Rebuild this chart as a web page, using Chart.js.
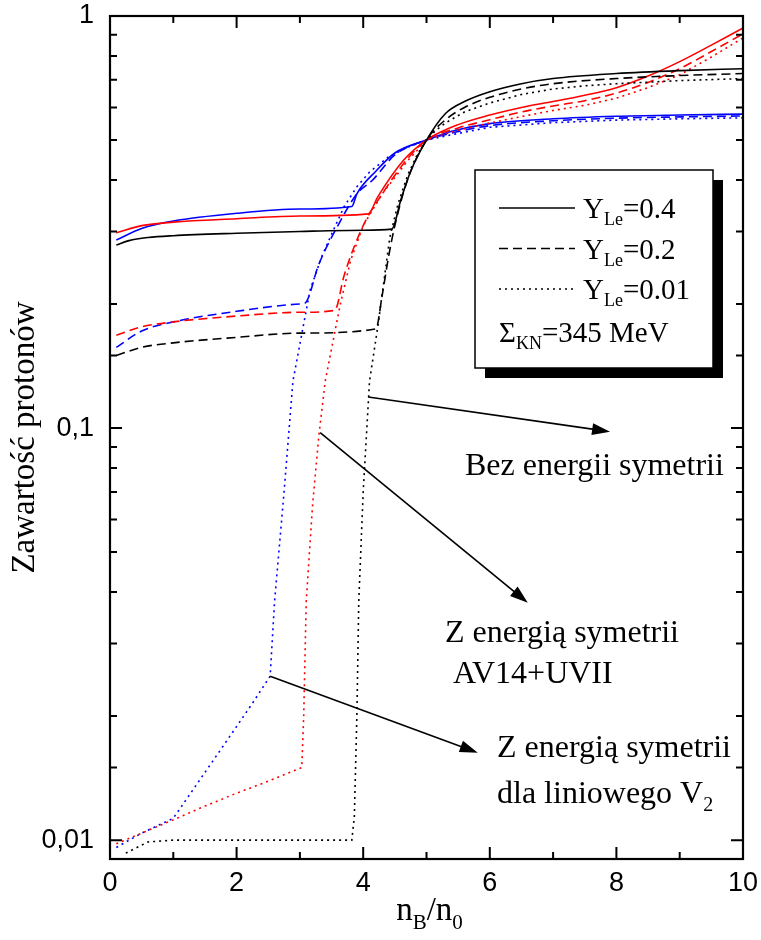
<!DOCTYPE html>
<html lang="pl">
<head>
<meta charset="utf-8">
<title>Zawartość protonów</title>
<script src="https://cdn.jsdelivr.net/npm/chart.js@4.4.1/dist/chart.umd.min.js"></script>
<style>
    html, body { margin: 0; padding: 0; background: #fff; }
    .chart-wrap { position: relative; width: 761px; height: 940px; }
</style>
</head>
<body>
<div class="chart-wrap"><canvas id="protonChart"></canvas></div>
<script>
// Bez energii symetrii (black)
const bezX04 = [0.1, 0.3, 0.6, 1, 2, 3, 4, 4.45, 4.6, 4.75, 5, 5.3, 5.6, 6, 6.5, 7, 8, 9, 10];
const bezY04 = [0.278, 0.285, 0.29, 0.293, 0.297, 0.3, 0.302, 0.304, 0.36, 0.42, 0.5, 0.58, 0.62, 0.655, 0.685, 0.705, 0.725, 0.737, 0.745];
const bezX02 = [0.1, 0.5, 1, 2, 3, 4.2, 4.3, 4.4, 4.5, 4.7, 5, 5.3, 5.6, 6, 6.5, 7, 8, 9, 10];
const bezY02 = [0.15, 0.157, 0.161, 0.166, 0.17, 0.174, 0.21, 0.26, 0.31, 0.4, 0.5, 0.56, 0.6, 0.635, 0.665, 0.685, 0.705, 0.717, 0.725];
const bezX001 = [0.25, 0.6, 1, 2, 3, 3.82, 3.86, 3.9, 3.93, 4.0, 4.1, 4.23, 4.42, 4.55, 4.7, 4.85, 5, 5.15, 5.3, 5.6, 6, 6.5, 7, 7.5, 8, 9, 10];
const bezY001 = [0.0093, 0.0099, 0.01, 0.01, 0.01, 0.01, 0.0114, 0.02, 0.038, 0.07, 0.13, 0.176, 0.29, 0.35, 0.41, 0.46, 0.5, 0.528, 0.55, 0.585, 0.615, 0.645, 0.665, 0.677, 0.685, 0.697, 0.705];

// Z energią symetrii AV14+UVII (red)
const avX04 = [0.1, 0.5, 1, 2, 3, 4.08, 4.23, 4.64, 5, 5.5, 6, 6.5, 7, 7.5, 8, 8.5, 9, 9.5, 10];
const avY04 = [0.298, 0.31, 0.316, 0.322, 0.327, 0.331, 0.364, 0.447, 0.5, 0.545, 0.575, 0.6, 0.62, 0.642, 0.67, 0.715, 0.775, 0.85, 0.935];
const avX02 = [0.1, 0.5, 1, 2, 3, 3.55, 3.7, 4.0, 4.3, 4.7, 5, 5.5, 6, 6.5, 7, 7.5, 8, 8.5, 9, 9.5, 10];
const avY02 = [0.168, 0.176, 0.181, 0.187, 0.191, 0.193, 0.235, 0.31, 0.37, 0.45, 0.5, 0.535, 0.56, 0.585, 0.605, 0.623, 0.65, 0.69, 0.745, 0.82, 0.905];
const avX001 = [0.1, 0.5, 1, 1.5, 2, 2.5, 3.03, 3.06, 3.1, 3.2, 3.3, 3.4, 3.63, 3.8, 4.0, 4.3, 4.7, 5, 5.25, 5.5, 6, 6.5, 7, 7.5, 8, 8.5, 9, 9.5, 10];
const avY001 = [0.0098, 0.0104, 0.0112, 0.0121, 0.013, 0.0139, 0.015, 0.02, 0.038, 0.065, 0.096, 0.13, 0.197, 0.255, 0.31, 0.37, 0.445, 0.5, 0.515, 0.528, 0.55, 0.57, 0.59, 0.607, 0.632, 0.67, 0.72, 0.795, 0.885];

// Z energią symetrii dla liniowego V2 (blue)
const v2X04 = [0.1, 0.5, 1, 2, 3, 3.82, 3.9, 4.2, 4.5, 5, 5.4, 6, 7, 8, 9, 10];
const v2Y04 = [0.286, 0.305, 0.318, 0.332, 0.34, 0.345, 0.37, 0.42, 0.465, 0.5, 0.525, 0.548, 0.563, 0.571, 0.575, 0.578];
const v2X02 = [0.1, 0.5, 1, 2, 3, 3.08, 3.3, 3.6, 3.9, 4.15, 4.5, 5, 5.4, 6, 7, 8, 9, 10];
const v2Y02 = [0.157, 0.172, 0.181, 0.192, 0.2, 0.201, 0.25, 0.31, 0.37, 0.4, 0.46, 0.5, 0.52, 0.542, 0.557, 0.565, 0.569, 0.572];
const v2X001 = [0.1, 0.5, 1, 1.5, 1.93, 2.26, 2.53, 2.6, 2.75, 2.89, 3.16, 3.35, 3.52, 3.7, 3.9, 4.1, 4.4, 4.7, 5, 5.4, 6, 7, 8, 9, 10];
const v2Y001 = [0.0096, 0.0104, 0.0113, 0.0146, 0.0182, 0.0216, 0.025, 0.038, 0.07, 0.13, 0.216, 0.262, 0.3, 0.345, 0.385, 0.418, 0.455, 0.48, 0.5, 0.515, 0.537, 0.551, 0.559, 0.563, 0.566];

// Tick labels
const xTickValues = [0, 2, 4, 6, 8, 10];
const xTickLabels = ['0', '2', '4', '6', '8', '10'];
const yTickValues = [0.01, 0.1, 1];
const yTickLabels = ['0,01', '0,1', '1'];

const SOLID = [];
const DASHED = [9, 5];
const DOTTED = [2, 4];

const series = [
    { label: 'Bez, YLe=0.4', xs: bezX04, ys: bezY04, color: '#000000', dash: SOLID },
    { label: 'Bez, YLe=0.2', xs: bezX02, ys: bezY02, color: '#000000', dash: DASHED },
    { label: 'Bez, YLe=0.01', xs: bezX001, ys: bezY001, color: '#000000', dash: DOTTED },
    { label: 'AV14, YLe=0.4', xs: avX04, ys: avY04, color: '#ff0000', dash: SOLID },
    { label: 'AV14, YLe=0.2', xs: avX02, ys: avY02, color: '#ff0000', dash: DASHED },
    { label: 'AV14, YLe=0.01', xs: avX001, ys: avY001, color: '#ff0000', dash: DOTTED },
    { label: 'V2, YLe=0.4', xs: v2X04, ys: v2Y04, color: '#0000ff', dash: SOLID },
    { label: 'V2, YLe=0.2', xs: v2X02, ys: v2Y02, color: '#0000ff', dash: DASHED },
    { label: 'V2, YLe=0.01', xs: v2X001, ys: v2Y001, color: '#0000ff', dash: DOTTED }
];

const SERIF = '"Liberation Serif", "Times New Roman", serif';
const SANS = '"Liberation Sans", Arial, sans-serif';

function nearIndex(list, v) {
    return list.findIndex(t => Math.abs(t - v) <= Math.abs(t) * 1e-6 + 1e-12);
}

// text made of runs, some of them subscripts
function drawRuns(ctx, runs, x, y, size, subSize, subShift) {
    let cx = x;
    runs.forEach(r => {
        ctx.font = (r.sub ? subSize : size) + 'px ' + SERIF;
        ctx.fillText(r.t, cx, r.sub ? y + subShift : y);
        cx += ctx.measureText(r.t).width;
    });
    return cx - x;
}

function runsWidth(ctx, runs, size, subSize) {
    let w = 0;
    runs.forEach(r => {
        ctx.font = (r.sub ? subSize : size) + 'px ' + SERIF;
        w += ctx.measureText(r.t).width;
    });
    return w;
}

function drawArrow(ctx, x1, y1, x2, y2) {
    const ang = Math.atan2(y2 - y1, x2 - x1);
    const len = 18, half = 6;
    ctx.beginPath();
    ctx.moveTo(x1, y1);
    ctx.lineTo(x2 - len * 0.8 * Math.cos(ang), y2 - len * 0.8 * Math.sin(ang));
    ctx.stroke();
    ctx.beginPath();
    ctx.moveTo(x2, y2);
    ctx.lineTo(x2 - len * Math.cos(ang) - half * Math.sin(ang), y2 - len * Math.sin(ang) + half * Math.cos(ang));
    ctx.lineTo(x2 - len * Math.cos(ang) + half * Math.sin(ang), y2 - len * Math.sin(ang) - half * Math.cos(ang));
    ctx.closePath();
    ctx.fill();
}

// frame, inward ticks, legend box, arrows and notes
const decorPlugin = {
    id: 'decor',
    afterDraw(chart) {
        const { ctx, chartArea: a, scales: { x, y } } = chart;
        ctx.save();
        ctx.strokeStyle = '#000';
        ctx.fillStyle = '#000';
        ctx.setLineDash([]);

        // ticks
        ctx.lineWidth = 2;
        ctx.beginPath();
        x.ticks.forEach(t => {
            const px = x.getPixelForValue(t.value);
            const len = nearIndex(xTickValues, t.value) >= 0 ? 12 : 7;
            ctx.moveTo(px, a.bottom); ctx.lineTo(px, a.bottom - len);
            ctx.moveTo(px, a.top); ctx.lineTo(px, a.top + len);
        });
        y.ticks.forEach(t => {
            if (t.value < 0.0099 || t.value > 1.0001) return;
            const py = y.getPixelForValue(t.value);
            const len = nearIndex(yTickValues, t.value) >= 0 ? 12 : 7;
            ctx.moveTo(a.left, py); ctx.lineTo(a.left + len, py);
            ctx.moveTo(a.right, py); ctx.lineTo(a.right - len, py);
        });
        ctx.stroke();

        // frame
        ctx.lineWidth = 2.2;
        ctx.strokeRect(a.left, a.top, a.right - a.left, a.bottom - a.top);

        // x axis title n_B/n_0
        const xTitle = [{ t: 'n' }, { t: 'B', sub: true }, { t: '/n' }, { t: '0', sub: true }];
        const w = runsWidth(ctx, xTitle, 33, 21);
        ctx.textBaseline = 'alphabetic';
        drawRuns(ctx, xTitle, (a.left + a.right) / 2 - w / 2 + 3, 920, 33, 21, 9);

        // arrows
        ctx.lineWidth = 1.6;
        const arrows = [
            [4.08, 0.119, 7.9, 0.098],
            [3.32, 0.0975, 6.6, 0.0377],
            [2.53, 0.025, 5.81, 0.0163]
        ];
        arrows.forEach(r => {
            drawArrow(ctx, x.getPixelForValue(r[0]), y.getPixelForValue(r[1]),
                x.getPixelForValue(r[2]), y.getPixelForValue(r[3]));
        });

        // notes
        drawRuns(ctx, [{ t: 'Bez energii symetrii' }], 465, 475, 32, 20, 8);
        drawRuns(ctx, [{ t: 'Z energią symetrii' }], 445, 642, 32, 20, 8);
        drawRuns(ctx, [{ t: 'AV14+UVII' }], 453, 683, 32, 20, 8);
        drawRuns(ctx, [{ t: 'Z energią symetrii' }], 497, 757, 32, 20, 8);
        drawRuns(ctx, [{ t: 'dla liniowego V' }, { t: '2', sub: true }], 497, 803, 32, 20, 8);

        // legend box with shadow
        const bx = 475, by = 170, bw = 238, bh = 198;
        ctx.fillRect(bx + 10, by + 10, bw, bh);
        ctx.fillStyle = '#fff';
        ctx.fillRect(bx, by, bw, bh);
        ctx.lineWidth = 1.5;
        ctx.strokeRect(bx, by, bw, bh);
        ctx.fillStyle = '#000';

        const rows = [
            { dash: SOLID, runs: [{ t: 'Y' }, { t: 'Le', sub: true }, { t: '=0.4' }] },
            { dash: DASHED, runs: [{ t: 'Y' }, { t: 'Le', sub: true }, { t: '=0.2' }] },
            { dash: DOTTED, runs: [{ t: 'Y' }, { t: 'Le', sub: true }, { t: '=0.01' }] }
        ];
        rows.forEach((r, i) => {
            const ly = 208 + i * 40.5;
            ctx.lineWidth = 1.5;
            ctx.setLineDash(r.dash);
            ctx.beginPath();
            ctx.moveTo(499, ly); ctx.lineTo(575, ly);
            ctx.stroke();
            ctx.setLineDash([]);
            drawRuns(ctx, r.runs, 583, ly + 10, 29, 18, 7);
        });
        drawRuns(ctx, [{ t: 'Σ' }, { t: 'KN', sub: true }, { t: '=345 MeV' }], 499, 342, 29, 18, 7);

        ctx.restore();
    }
};

const datasets = series.map(s => ({
    label: s.label,
    data: s.xs.map((v, i) => ({ x: v, y: s.ys[i] })),
    borderColor: s.color,
    backgroundColor: s.color,
    borderWidth: 1.6,
    borderDash: s.dash,
    showLine: true,
    pointRadius: 0,
    pointHoverRadius: 0,
    fill: false,
    // the dotted curves have sharp corners, keep them straight between points
    cubicInterpolationMode: s.dash === DOTTED ? 'default' : 'monotone',
    tension: 0
}));

new Chart(document.getElementById('protonChart'), {
    type: 'scatter',
    data: { datasets: datasets },
    options: {
        responsive: true,
        maintainAspectRatio: false,
        animation: false,
        layout: { padding: { top: 16, right: 18, left: 0, bottom: 0 } },
        plugins: {
            legend: { display: false },
            tooltip: { enabled: false }
        },
        scales: {
            x: {
                type: 'linear',
                min: 0,
                max: 10,
                grid: { display: false, drawTicks: false },
                border: { display: false },
                ticks: {
                    stepSize: 1,
                    autoSkip: false,
                    maxRotation: 0,
                    padding: 8,
                    color: '#000',
                    font: { family: SANS, size: 27 },
                    callback: v => {
                        const i = nearIndex(xTickValues, v);
                        return i >= 0 ? xTickLabels[i] : '';
                    }
                },
                afterFit: scale => {
                    scale.height = 81;
                    scale.paddingLeft = 0;
                    scale.paddingRight = 0;
                }
            },
            y: {
                type: 'logarithmic',
                min: 0.009,
                max: 1,
                grid: { display: false, drawTicks: false },
                border: { display: false },
                title: {
                    display: true,
                    text: 'Zawartość protonów',
                    color: '#000',
                    font: { family: SERIF, size: 33 },
                    padding: { top: 6, bottom: 0 }
                },
                ticks: {
                    autoSkip: false,
                    padding: 16,
                    color: '#000',
                    font: { family: SANS, size: 27 },
                    callback: v => {
                        const i = nearIndex(yTickValues, v);
                        return i >= 0 ? yTickLabels[i] : '';
                    }
                },
                afterFit: scale => {
                    scale.width = 110;
                    scale.paddingTop = 0;
                    scale.paddingBottom = 0;
                }
            }
        }
    },
    plugins: [decorPlugin]
});
</script>
</body>
</html>
